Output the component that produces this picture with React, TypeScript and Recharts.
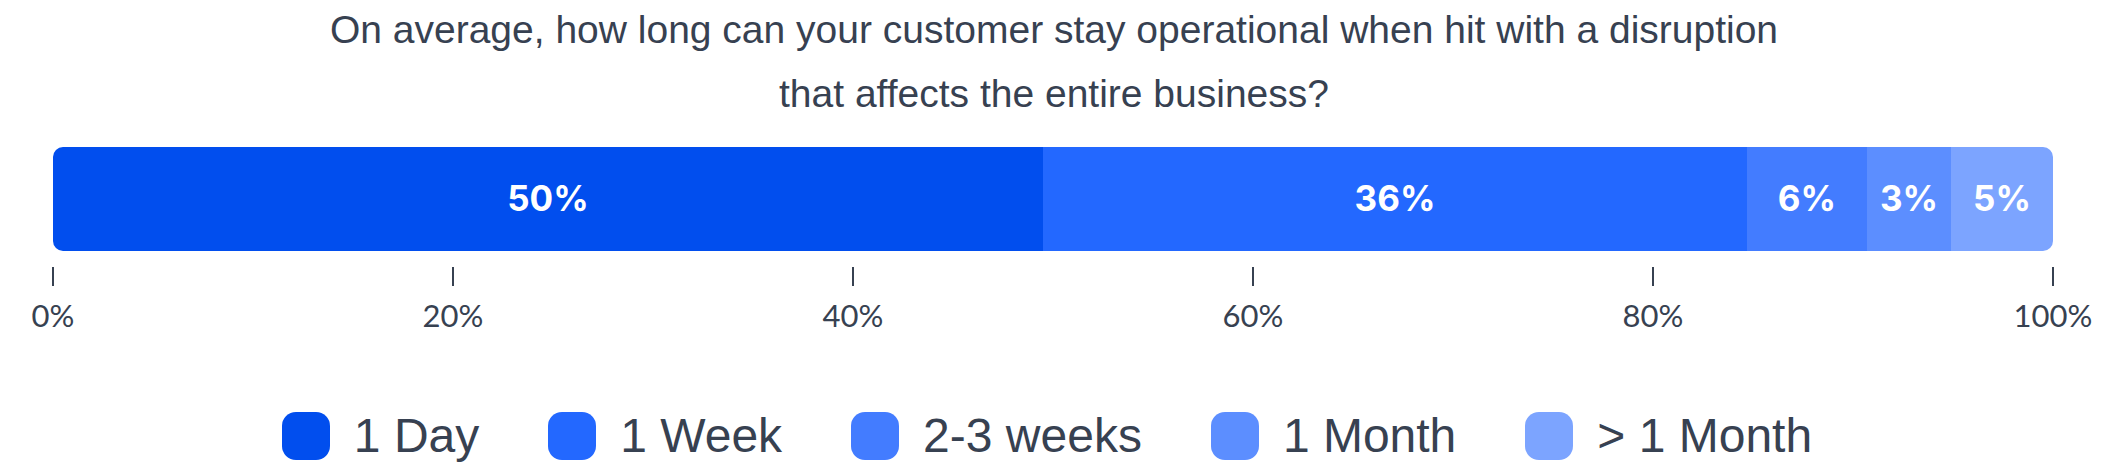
import React from "react";
import { BarChart, Bar, XAxis, YAxis, LabelList } from "recharts";

const categories = ["1 Day", "1 Week", "2-3 weeks", "1 Month", "> 1 Month"];
const seriesKeys = ["d1", "w1", "w23", "m1", "m1plus"];
const seriesValues = [49.5, 35.2, 6.0, 4.2, 5.1];
const valueLabels = ["50%", "36%", "6%", "3%", "5%"];
const colors = ["#014EEE", "#2368FF", "#437CFF", "#5C8EFF", "#7CA4FF"];
const tickValues = [0, 20, 40, 60, 80, 100];
const tickLabels = ["0%", "20%", "40%", "60%", "80%", "100%"];
const titleLines = [
  "On average, how long can your customer stay operational when hit with a disruption",
  "that affects the entire business?",
];

const row: Record<string, any> = { name: "q" };
seriesKeys.forEach((k, i) => (row[k] = seriesValues[i]));
const data = [row];

const TEXT = "#374151";

const AxisTick = (props: any) => {
  const { x, y, payload } = props;
  const idx = tickValues.indexOf(payload.value);
  return (
    <g>
      <line x1={x} x2={x} y1={y + 16} y2={y + 35} stroke={TEXT} strokeWidth={2} />
      <text
        x={x}
        y={y + 64}
        textAnchor="middle"
        dominantBaseline="central"
        fill={TEXT}
        fontSize={31}
        fontFamily="Lato, sans-serif"
      >
        {idx >= 0 ? tickLabels[idx] : payload.value}
      </text>
    </g>
  );
};

export default function App() {
  const n = seriesKeys.length;
  return (
    <div style={{ position: "relative", width: 2108, height: 473, background: "#fff", overflow: "hidden" }}>
      <style>{`body{margin:0}`}</style>
      <div
        style={{
          position: "absolute",
          top: -2,
          left: 0,
          width: 2108,
          textAlign: "center",
          fontFamily: "'Liberation Sans', Arial, sans-serif",
          fontSize: 39,
          lineHeight: "64px",
          color: TEXT,
        }}
      >
        {titleLines.map((l, i) => (
          <div key={i}>{l}</div>
        ))}
      </div>
      <div style={{ position: "absolute", left: 0, top: 0 }}>
        <BarChart
          width={2108}
          height={473}
          data={data}
          layout="vertical"
          margin={{ top: 147, left: 53, right: 55, bottom: 122 }}
          barCategoryGap={0}
        >
          <XAxis
            type="number"
            domain={[0, 100]}
            ticks={tickValues}
            axisLine={false}
            tickLine={false}
            tickSize={0}
            tickMargin={0}
            height={100}
            tick={<AxisTick />}
            interval={0}
          />
          <YAxis type="category" dataKey="name" hide width={0} />
          {seriesKeys.map((k, i) => (
            <Bar
              key={k}
              dataKey={k}
              stackId="a"
              fill={colors[i]}
              isAnimationActive={false}
              radius={i === 0 ? [10, 0, 0, 10] : i === n - 1 ? [0, 10, 10, 0] : 0}
            >
              <LabelList
                dataKey={k}
                position="center"
                formatter={() => valueLabels[i]}
                fill="#ffffff"
                fontSize={35}
                fontWeight={700}
                fontFamily="Inter, sans-serif"
              />
            </Bar>
          ))}
        </BarChart>
      </div>
      <div
        style={{
          position: "absolute",
          left: 0,
          top: 412,
          width: 2108,
          paddingRight: 14,
          boxSizing: "border-box",
          display: "flex",
          justifyContent: "center",
          alignItems: "center",
          gap: 69,
          fontFamily: "'Liberation Sans', Arial, sans-serif",
          fontSize: 48,
          color: TEXT,
        }}
      >
        {categories.map((c, i) => (
          <div key={c} style={{ display: "flex", alignItems: "center", gap: 24 }}>
            <div style={{ width: 48, height: 48, borderRadius: 14, background: colors[i] }} />
            <span style={{ lineHeight: "48px" }}>{c}</span>
          </div>
        ))}
      </div>
    </div>
  );
}
